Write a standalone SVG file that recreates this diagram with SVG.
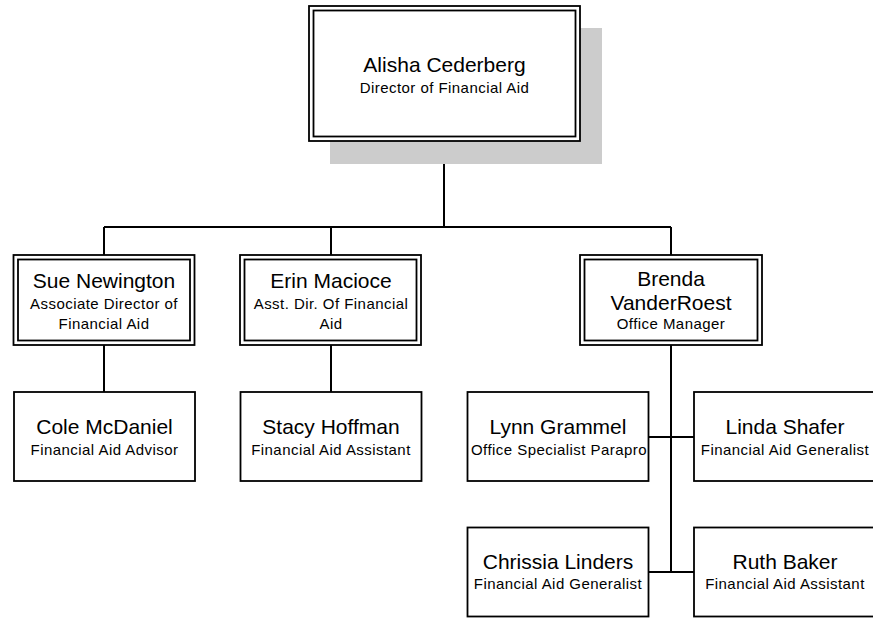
<svg xmlns="http://www.w3.org/2000/svg" width="873" height="619" viewBox="0 0 873 619">
<style>
.box{fill:#fff;stroke:#000;stroke-width:1.8}
.inner{fill:none;stroke:#000;stroke-width:1.8}
.ln{fill:none;stroke:#000;stroke-width:2}
.nm{font-family:"Liberation Sans",Arial,sans-serif;font-size:21px;text-anchor:middle;fill:#000}
.sub{font-family:"Liberation Sans",Arial,sans-serif;font-size:15px;letter-spacing:0.45px;text-anchor:middle;fill:#000}
</style>
<rect width="873" height="619" fill="#fff"/>
<g id="connectors">
<path class="ln" d="M444 141V227M104 227H671M104 227V255M331 227V255M671 227V255M104 345V392M331 345V392M671 345V572M648 437H694M648 572H694"/>
</g>
<g id="n-alisha">
<rect x="330" y="28" width="272" height="136" fill="#cccccc"/>
<rect class="box" x="309" y="6" width="271" height="135"/>
<rect class="inner" x="313.5" y="10.5" width="262" height="126"/>
<text class="nm" x="444.5" y="72">Alisha Cederberg</text>
<text class="sub" x="444.5" y="93">Director of Financial Aid</text>
</g>
<g id="n-sue">
<rect class="box" x="13.5" y="255" width="181" height="90"/>
<rect class="inner" x="18" y="259.5" width="172" height="81"/>
<text class="nm" x="104" y="288">Sue Newington</text>
<text class="sub" x="104" y="309">Associate Director of</text>
<text class="sub" x="104" y="329">Financial Aid</text>
</g>
<g id="n-erin">
<rect class="box" x="240" y="255" width="181" height="90"/>
<rect class="inner" x="244.5" y="259.5" width="172" height="81"/>
<text class="nm" x="331" y="288">Erin Macioce</text>
<text class="sub" x="331" y="309">Asst. Dir. Of Financial</text>
<text class="sub" x="331" y="329">Aid</text>
</g>
<g id="n-brenda">
<rect class="box" x="580" y="255" width="182" height="90"/>
<rect class="inner" x="584.5" y="259.5" width="173" height="81"/>
<text class="nm" x="671" y="286">Brenda</text>
<text class="nm" x="671" y="310">VanderRoest</text>
<text class="sub" x="671" y="329">Office Manager</text>
</g>
<g id="n-cole">
<rect class="box" x="14" y="392" width="181" height="89"/>
<text class="nm" x="104.5" y="434">Cole McDaniel</text>
<text class="sub" x="104.5" y="455">Financial Aid Advisor</text>
</g>
<g id="n-stacy">
<rect class="box" x="240.5" y="392" width="181" height="89"/>
<text class="nm" x="331" y="434">Stacy Hoffman</text>
<text class="sub" x="331" y="455">Financial Aid Assistant</text>
</g>
<g id="n-lynn">
<rect class="box" x="467.5" y="392" width="181" height="89"/>
<text class="nm" x="558" y="434">Lynn Grammel</text>
<text class="sub" x="559" y="455">Office Specialist Parapro</text>
</g>
<g id="n-linda">
<rect class="box" x="694" y="392" width="181" height="89"/>
<text class="nm" x="785" y="434">Linda Shafer</text>
<text class="sub" x="785" y="455">Financial Aid Generalist</text>
</g>
<g id="n-chrissia">
<rect class="box" x="467.5" y="527.5" width="181" height="89"/>
<text class="nm" x="558" y="569">Chrissia Linders</text>
<text class="sub" x="558" y="589">Financial Aid Generalist</text>
</g>
<g id="n-ruth">
<rect class="box" x="694" y="527.5" width="181" height="89"/>
<text class="nm" x="785" y="569">Ruth Baker</text>
<text class="sub" x="785" y="589">Financial Aid Assistant</text>
</g>
</svg>
